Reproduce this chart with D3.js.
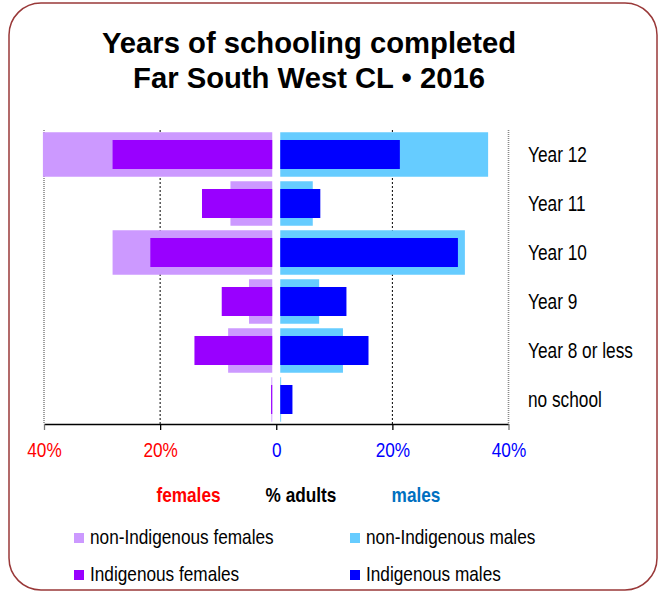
<!DOCTYPE html>
<html>
<head>
<meta charset="utf-8">
<script src="https://cdn.jsdelivr.net/npm/d3@7"></script>
<style>
	body { margin: 0; background: #fff; }
	svg text { font-family: "Liberation Sans", Arial, sans-serif; }
</style>
</head>
<body>
<svg id="chart" width="663" height="591"></svg>
<script>
	'use strict';

	// schooling levels, top to bottom
	var levels = ['Year 12', 'Year 11', 'Year 10', 'Year 9', 'Year 8 or less', 'no school'];

	// % of adults
	var nonIndigenousFemales = [39.5, 7.2, 27.5, 4.0, 7.6, 0.15];
	var indigenousFemales = [27.5, 12.1, 21.0, 8.7, 13.4, 0.2];
	var nonIndigenousMales = [35.8, 5.6, 31.8, 6.7, 10.8, 0.15];
	var indigenousMales = [20.6, 6.9, 30.6, 11.4, 15.2, 2.1];

	var axisTicks = [-40, -20, 0, 20, 40];
	var titleLines = ['Years of schooling completed', 'Far South West CL \u2022 2016'];

	var legendItems = [
		{ label : 'non-Indigenous females', color : '#cc99ff' },
		{ label : 'non-Indigenous males', color : '#66ccff' },
		{ label : 'Indigenous females', color : '#9900ff' },
		{ label : 'Indigenous males', color : '#0000ff' }
	];

	/**
	 * Move x/y of the text elements into a transform with a horizontal squeeze
	 * (no narrow font installed, so the regular one is squeezed like Arial Narrow)
	 */
	function narrow(k) {
		return function (sel) {
			sel.each(function () {
				var t = d3.select(this);
				var tx = +t.attr('x') || 0, ty = +t.attr('y') || 0;
				t.attr('x', 0).attr('y', 0)
					.attr('transform', 'translate(' + tx + ',' + ty + ') scale(' + k + ',1)');
			});
		};
	}

	var svg = d3.select('#chart');

	// rounded frame
	svg.append('rect')
		.attr('x', 9).attr('y', 3)
		.attr('width', 648).attr('height', 587)
		.attr('rx', 32).attr('ry', 32)
		.attr('fill', '#fff')
		.attr('stroke', '#993838')
		.attr('stroke-width', 1.5);

	svg.selectAll('text.title')
		.data(titleLines)
		.enter()
			.append('text')
			.attr('class', 'title')
			.attr('x', 309)
			.attr('y', function (d, i) { return 53 + i * 35; })
			.attr('text-anchor', 'middle')
			.attr('font-size', '30px')
			.attr('font-weight', 'bold')
			.text(function (d) { return d; })
			.call(narrow(0.975));

	var x = d3.scaleLinear().domain([-40, 40]).range([44, 508.5]);
	var y = d3.scaleBand().domain(levels).range([130, 424]).paddingInner(0.092).paddingOuter(0.046);
	var gap = 4;

	// gridlines behind the bars
	svg.append('g')
		.selectAll('line')
		.data([-40, -20, 20, 40])
		.enter()
			.append('line')
			.attr('x1', function (d) { return x(d); })
			.attr('x2', function (d) { return x(d); })
			.attr('y1', 130)
			.attr('y2', 424)
			.attr('stroke', function (d) { return Math.abs(d) === 40 ? '#888' : '#000'; })
			.attr('stroke-width', function (d) { return Math.abs(d) === 40 ? 1.6 : 1; })
			.attr('stroke-dasharray', function (d) { return Math.abs(d) === 40 ? '1,1' : '2,2'; });

	/**
	 * Draw one series; females grow to the left, males to the right.
	 */
	function drawSeries(values, color, side, thick) {
		var h = thick ? y.bandwidth() : y.step() * 0.592;
		svg.append('g')
			.selectAll('rect')
			.data(values)
			.enter()
				.append('rect')
				.attr('x', function (d) {
					return side < 0 ? x(-d) - gap : x(0) + gap;
				})
				.attr('width', function (d) { return x(d) - x(0); })
				.attr('y', function (d, i) { return y(levels[i]) + (y.bandwidth() - h) / 2; })
				.attr('height', h)
				.attr('fill', color);
	}

	drawSeries(nonIndigenousFemales, '#cc99ff', -1, true);
	drawSeries(nonIndigenousMales, '#66ccff', 1, true);
	drawSeries(indigenousFemales, '#9900ff', -1, false);
	drawSeries(indigenousMales, '#0000ff', 1, false);

	// bottom axis
	var axis = d3.axisBottom(x)
		.tickValues(axisTicks)
		.tickSize(6)
		.tickSizeOuter(0)
		.tickPadding(12)
		.tickFormat(function (d) { return d === 0 ? '0' : Math.abs(d) + '%'; });

	var axisG = svg.append('g')
		.attr('transform', 'translate(0,424)')
		.call(axis);
	axisG.select('.domain').attr('stroke', '#000').attr('stroke-width', 1.3);
	axisG.selectAll('.tick line')
		.attr('stroke', function (d) { return Math.abs(d) === 40 ? '#777' : '#000'; })
		.attr('stroke-width', 1.3);
	axisG.selectAll('.tick text')
		.attr('font-family', null)
		.attr('font-size', '21px')
		.attr('fill', function (d) { return d < 0 ? '#ff0000' : '#0000ff'; })
		.attr('y', 457 - 424)
		.attr('dy', null)
		.call(narrow(0.82));

	// category labels on the right
	svg.append('g')
		.selectAll('text')
		.data(levels)
		.enter()
			.append('text')
			.attr('x', 528)
			.attr('y', function (d) { return y(d) + y.bandwidth() / 2 + 7.5; })
			.attr('font-size', '22px')
			.attr('fill', '#000')
			.text(function (d) { return d; })
			.call(narrow(0.785));

	// axis caption
	svg.append('g')
		.selectAll('text')
		.data([
			{ t : 'females', x : 188.5, c : '#ff0000' },
			{ t : '% adults', x : 301, c : '#000' },
			{ t : 'males', x : 416, c : '#0070c0' }
		])
		.enter()
			.append('text')
			.attr('x', function (d) { return d.x; })
			.attr('y', 502)
			.attr('text-anchor', 'middle')
			.attr('font-size', '21px')
			.attr('font-weight', 'bold')
			.attr('fill', function (d) { return d.c; })
			.text(function (d) { return d.t; })
			.call(narrow(0.82));

	// legend, two columns
	var legend = svg.append('g')
		.selectAll('g')
		.data(legendItems)
		.enter()
			.append('g')
			.attr('transform', function (d, i) {
				return 'translate(' + (i % 2 ? 350 : 74) + ',' + (i < 2 ? 544 : 581) + ')';
			});
	legend.append('rect')
		.attr('x', 0).attr('y', -11)
		.attr('width', 10).attr('height', 10)
		.attr('fill', function (d) { return d.color; });
	legend.append('text')
		.attr('x', 16)
		.attr('y', 0)
		.attr('font-size', '21px')
		.attr('fill', '#000')
		.text(function (d) { return d.label; })
		.call(narrow(0.82));
</script>
</body>
</html>
